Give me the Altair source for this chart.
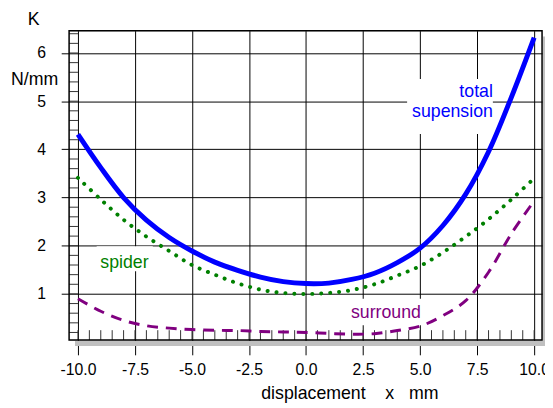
import altair as alt
import numpy as np
import pandas as pd

# ---- data ----
xs = [-10, -9, -8, -7, -6, -5, -4, -3, -2, -1, 0, 1, 2, 3, 4, 5, 6, 7, 8, 9, 10]
total = [4.31, 3.62, 3.00, 2.53, 2.17, 1.89, 1.66, 1.49, 1.35, 1.255, 1.215,
         1.225, 1.30, 1.43, 1.65, 1.95, 2.42, 3.07, 3.95, 5.08, 6.32]
spider = [3.41, 2.96, 2.54, 2.19, 1.89, 1.60, 1.40, 1.22, 1.09, 1.02, 1.00,
          1.02, 1.08, 1.20, 1.38, 1.58, 1.86, 2.19, 2.55, 2.96, 3.40]
surround = [0.90, 0.64, 0.45, 0.34, 0.29, 0.26, 0.245, 0.24, 0.22, 0.21, 0.20,
            0.18, 0.165, 0.175, 0.24, 0.33, 0.55, 0.86, 1.45, 2.25, 2.93]

x_ticks = [-10, -7.5, -5, -2.5, 0, 2.5, 5, 7.5, 10]
y_ticks = [1, 2, 3, 4, 5, 6]
x_minor = list(np.round(np.arange(-10, 10.01, 0.5), 2))
y_minor = list(np.round(np.arange(0.2, 6.41, 0.2), 2))

lab_text = ["total", "supension", "spider", "surround"]
lab_x = [8.19, 8.19, -9.02, 1.97]
lab_y = [5.09, 4.68, 1.53, 0.51]
lab_color = ["#0000FF", "#0000FF", "#008000", "#800080"]
lab_align = ["right", "right", "left", "left"]

box_x1 = [4.43, -9.18, 1.79]
box_x2 = [8.19, -6.72, 5.16]
box_y1 = [4.32, 1.47, 0.35]
box_y2 = [5.46, 1.99, 0.90]

FONT = "Liberation Sans"

xscale = alt.Scale(domain=[-10.389, 10.346], nice=False, zero=False)
yscale = alt.Scale(domain=[0.043, 6.464], nice=False, zero=False)

curves = pd.DataFrame({"x": xs, "total": total, "spider": spider, "surround": surround})
labels = pd.DataFrame({"x": lab_x, "y": lab_y, "t": lab_text, "c": lab_color, "a": lab_align})
boxes = pd.DataFrame({"x1": box_x1, "x2": box_x2, "y1": box_y1, "y2": box_y2})
xm = pd.DataFrame({"v": x_minor})
ym = pd.DataFrame({"v": y_minor})
one = pd.DataFrame({"d": [0]})

xaxis = alt.Axis(values=x_ticks, grid=True, gridColor="black", gridOpacity=1,
                 labelExpr="datum.value < 0 ? '-' + format(-datum.value, '.1f') : format(datum.value, '.1f')",
                 gridWidth=1, tickColor="black", tickSize=15, tickWidth=1, domain=False,
                 labelFontSize=16, labelFont=FONT, labelColor="black", labelPadding=7,
                 labelOverlap=False, labelFlush=False, title=None)
yaxis = alt.Axis(values=y_ticks, format="d", grid=True, gridColor="black", gridOpacity=1,
                 gridWidth=1, tickColor="black", tickSize=8, tickWidth=1, domain=False,
                 labelFontSize=16, labelFont=FONT, labelColor="black", labelPadding=16,
                 title=None)


def X(f):
    return alt.X(f, scale=xscale, axis=xaxis, title=None)


def Y(f):
    return alt.Y(f, scale=yscale, axis=yaxis, title=None)


base = alt.Chart(curves)
INTERP = "catmull-rom"

blue = base.mark_line(color="#0000FF", strokeWidth=5, interpolate=INTERP).encode(
    x=X("x:Q"), y=Y("total:Q"))
green = base.mark_line(color="#008000", strokeWidth=4, strokeDash=[0.1, 9], strokeCap="round",
                       interpolate=INTERP).encode(x=X("x:Q"), y=Y("spider:Q"))
purple = base.mark_line(color="#800080", strokeWidth=3, strokeDash=[11, 8],
                        interpolate=INTERP).encode(x=X("x:Q"), y=Y("surround:Q"))

bg = alt.Chart(boxes).mark_rect(fill="white").encode(
    x=X("x1:Q"), x2="x2:Q", y=Y("y1:Q"), y2="y2:Q")

xminor = alt.Chart(xm).mark_rule(color="#333333", strokeWidth=1).encode(
    x=X("v:Q"), y=alt.value(304), y2=alt.value(314))
yminor = alt.Chart(ym).mark_rule(color="#333333", strokeWidth=1).encode(
    y=Y("v:Q"), x=alt.value(0), x2=alt.value(9))

shadow_b = alt.Chart(one).mark_rect(fill="#c0c0c0").encode(
    x=alt.value(6), x2=alt.value(483), y=alt.value(315), y2=alt.value(320))
shadow_r = alt.Chart(one).mark_rect(fill="#c0c0c0").encode(
    x=alt.value(481), x2=alt.value(483), y=alt.value(6), y2=alt.value(320))
frame = alt.Chart(one).mark_rect(fill=None, stroke="black", strokeWidth=1.5).encode(
    x=alt.value(0), x2=alt.value(480), y=alt.value(0), y2=alt.value(314))

txt_r = alt.Chart(labels).transform_filter(alt.datum.a == "right").mark_text(
    fontSize=18, font=FONT, baseline="alphabetic", align="right").encode(
    x=X("x:Q"), y=Y("y:Q"), text="t:N", color=alt.Color("c:N", scale=None))
txt_l = alt.Chart(labels).transform_filter(alt.datum.a == "left").mark_text(
    fontSize=18, font=FONT, baseline="alphabetic", align="left").encode(
    x=X("x:Q"), y=Y("y:Q"), text="t:N", color=alt.Color("c:N", scale=None))

xtitle = alt.Chart(one).mark_text(text="displacement\u00a0\u00a0\u00a0\u00a0x\u00a0\u00a0\u00a0mm",
                                  fontSize=18, font=FONT, align="left", baseline="alphabetic",
                                  color="black").encode(x=alt.value(195), y=alt.value(374))
k_t = alt.Chart(one).mark_text(text="K", fontSize=18, font=FONT, align="center",
                               baseline="alphabetic", color="black").encode(
    x=alt.value(-36), y=alt.value(-6))
n_t = alt.Chart(one).mark_text(text="N/mm", fontSize=18, font=FONT, align="center",
                               baseline="alphabetic", color="black").encode(
    x=alt.value(-35), y=alt.value(55))

chart = alt.layer(
    blue, bg, xminor, yminor, green, purple, shadow_b, shadow_r, frame, txt_r, txt_l,
    xtitle, k_t, n_t
).properties(
    width=480, height=314, autosize="none",
    padding={"left": 62, "top": 20, "right": 3, "bottom": 66},
).configure_view(stroke=None).configure(font=FONT)

chart.save("out.html", embed_options={"renderer": "svg", "actions": False})
